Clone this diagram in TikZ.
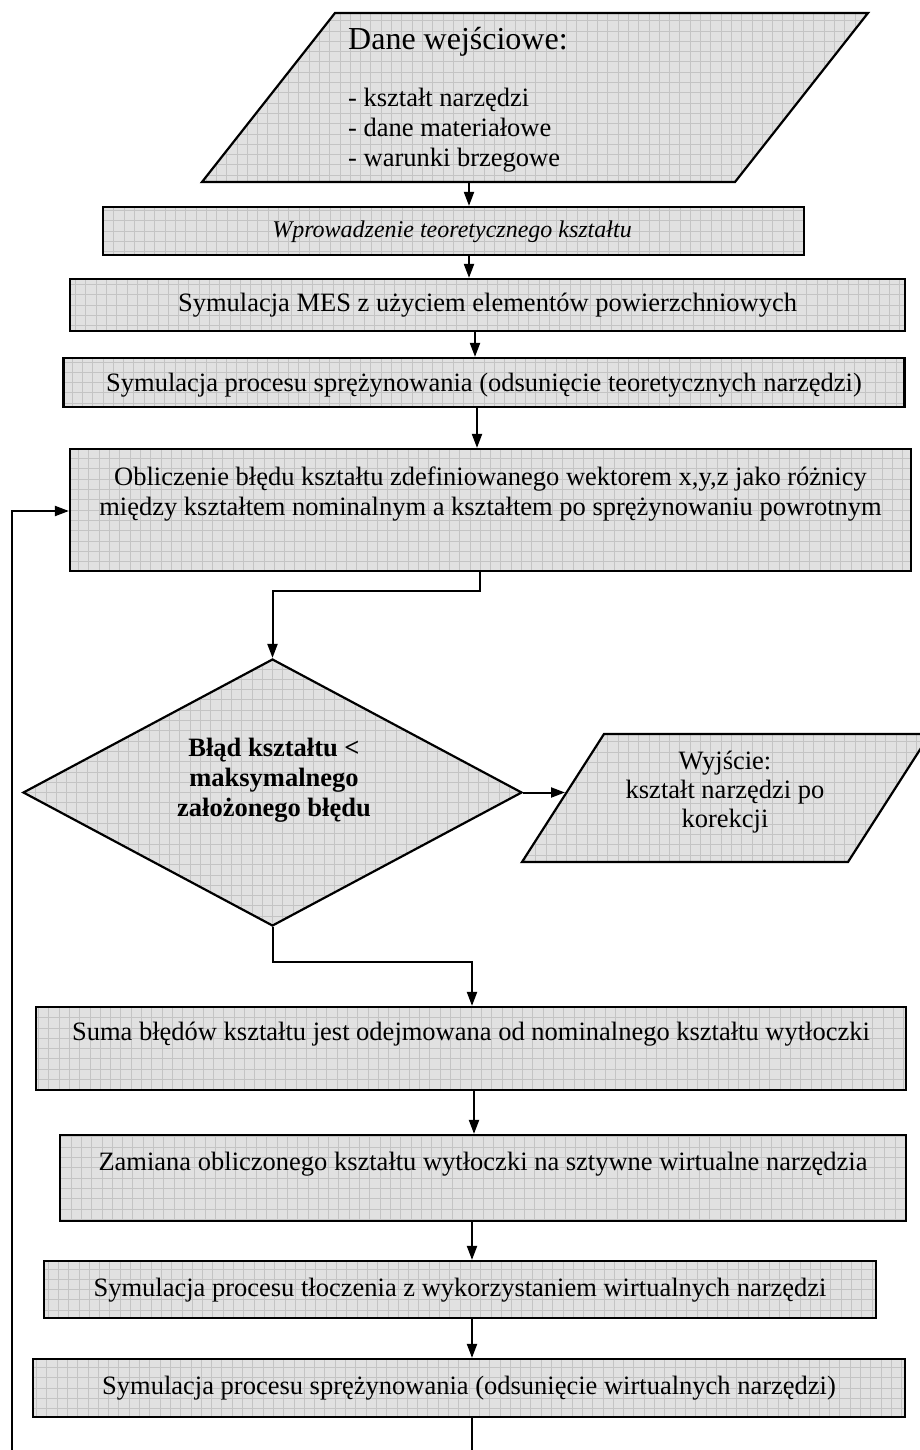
\documentclass[tikz,border=0pt]{standalone}
\usepackage{fontspec}
\setmainfont{Liberation Serif}
\usetikzlibrary{arrows.meta,shapes.geometric}
\definecolor{fillgray}{HTML}{E1E1E1}
\definecolor{gridgray}{HTML}{C4C4C4}
\tikzset{
  hatched/.style={path picture={
      \fill[fillgray] (path picture bounding box.south west) rectangle (path picture bounding box.north east);
      \draw[gridgray,line width=0.7pt,step=10.3pt] (path picture bounding box.south west) grid (path picture bounding box.north east);}},
  outline/.style={draw=black, line width=2.2pt, hatched},
  box/.style={outline, rectangle, inner sep=0pt},
  txt/.style={inner sep=0pt, align=center, font=\fontsize{26.5}{30}\selectfont},
  arr/.style={line width=2pt, -{Triangle[length=14pt,width=10pt]}},
  conn/.style={line width=2pt},
}
\begin{document}
\begin{tikzpicture}[x=1pt,y=-1pt]
\useasboundingbox (0,0) rectangle (920,1450);
\clip (0,0) rectangle (920,1450);

% input data
\path[outline] (335,13) -- (868,13) -- (735,182) -- (202,182) -- cycle;
\node[inner sep=0pt, anchor=base west, font=\fontsize{32}{36}\selectfont] (inT) at (348,50) {Dane wejściowe:};
\node[txt, align=left, anchor=west] (inL) at (348,130) {- kształt narzędzi\\- dane materiałowe\\- warunki brzegowe};
\coordinate (inB) at (469,182);

% process boxes
\node[box, minimum width=701pt, minimum height=48pt] (b2) at (453.5,231) {};
\node[txt, font=\fontsize{24}{28}\selectfont\itshape] (b2t) at (452,232) {Wprowadzenie teoretycznego kształtu};

\node[box, minimum width=835pt, minimum height=52pt] (b3) at (487.5,305) {};
\node[txt] (b3t) at (487.5,305) {Symulacja MES z użyciem elementów powierzchniowych};

\node[box, minimum width=841pt, minimum height=49pt] (b4) at (484,382.5) {};
\node[txt] (b4t) at (484,385) {Symulacja procesu sprężynowania (odsunięcie teoretycznych narzędzi)};

\node[box, minimum width=841pt, minimum height=122pt] (b5) at (490.5,510) {};
\node[txt] (b5t) at (490.5,494) {Obliczenie błędu kształtu zdefiniowanego wektorem x,y,z jako różnicy\\między kształtem nominalnym a kształtem po sprężynowaniu powrotnym};

% decision
\node[outline, diamond, inner sep=0pt, minimum width=499pt, minimum height=267pt] (dia) at (272.5,792.5) {};
\node[txt, font=\fontsize{26.5}{30}\selectfont\bfseries] (diat) at (274,780) {Błąd kształtu <\\maksymalnego\\założonego błędu};

% output
\path[outline] (604,734) -- (930,734) -- (848,862) -- (522,862) -- cycle;
\node[txt, font=\fontsize{26.5}{29}\selectfont] (outt) at (725,792) {Wyjście:\\kształt narzędzi po\\korekcji};
\coordinate (outL) at (565,792.5);

\node[box, minimum width=870pt, minimum height=83pt] (b6) at (471,1048.5) {};
\node[txt] (b6t) at (471,1034) {Suma błędów kształtu jest odejmowana od nominalnego kształtu wytłoczki};

\node[box, minimum width=846pt, minimum height=86pt] (b7) at (483,1178) {};
\node[txt] (b7t) at (483,1164) {Zamiana obliczonego kształtu wytłoczki na sztywne wirtualne narzędzia};

\node[box, minimum width=832pt, minimum height=57pt] (b8) at (460,1289.5) {};
\node[txt] (b8t) at (460,1290) {Symulacja procesu tłoczenia z wykorzystaniem wirtualnych narzędzi};

\node[box, minimum width=872pt, minimum height=58pt] (b9) at (469,1388) {};
\node[txt] (b9t) at (469,1388) {Symulacja procesu sprężynowania (odsunięcie wirtualnych narzędzi)};

% connectors
\draw[arr] (inB) -- (b2.north -| inB);
\draw[arr] (b2.south -| inB) -- (b3.north -| inB);
\coordinate (a34) at (475,0);
\draw[arr] (b3.south -| a34) -- (b4.north -| a34);
\coordinate (a45) at (477,0);
\draw[arr] (b4.south -| a45) -- (b5.north -| a45);

\coordinate (j1) at (480,591);
\draw[arr] (b5.south -| j1) -- (j1) -| (dia.north);
\draw[arr] (dia.east) -- (outL);

\coordinate (j3) at (472,962);
\draw[arr] (dia.south) |- (j3) -- (b6.north -| j3);
\coordinate (a67) at (474,0);
\draw[arr] (b6.south -| a67) -- (b7.north -| a67);
\coordinate (a78) at (472,0);
\draw[arr] (b7.south -| a78) -- (b8.north -| a78);
\draw[arr] (b8.south -| a78) -- (b9.north -| a78);
\coordinate (endB) at (472,1452);
\draw[conn] (b9.south -| endB) -- (endB);

% feedback loop
\coordinate (fbB) at (12,1452);
\coordinate (fbT) at (12,511);
\draw[arr] (fbB) -- (fbT) -- (fbT -| b5.west);
\end{tikzpicture}
\end{document}
